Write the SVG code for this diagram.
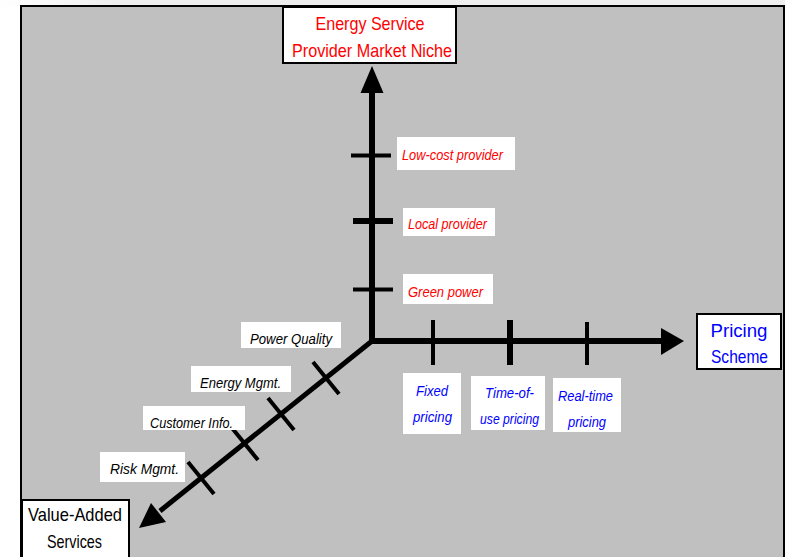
<svg xmlns="http://www.w3.org/2000/svg" width="785" height="557" viewBox="0 0 785 557">
<defs>
<linearGradient id="topband" x1="0" y1="0" x2="1" y2="0">
<stop offset="0" stop-color="#ffffff"/>
<stop offset="0.15" stop-color="#eeeeee"/>
<stop offset="1" stop-color="#eeeeee"/>
</linearGradient>
<style>
.axis{stroke:#000;stroke-width:6;fill:none}
.diag{stroke:#000;stroke-width:5;fill:none}
.tick{stroke:#000;stroke-width:4;fill:none}
.tickb{stroke:#000;stroke-width:6;fill:none}
.head{fill:#000;stroke:none}
.node{fill:#fff;stroke:#000;stroke-width:2}
.lbl{fill:#fff;stroke:none}
text{font-family:"Liberation Sans",Arial,sans-serif}
.ntitle{font-size:18.5px}
.red{fill:#ff0000}
.blue{fill:#0000ff}
.blk{fill:#000}
.it{font-style:italic;font-size:15.5px}
</style>
</defs>
<rect x="0" y="0" width="785" height="557" fill="#fff"/>
<rect x="0" y="0" width="785" height="6" fill="url(#topband)"/>
<rect x="21" y="6" width="763" height="560" fill="#c0c0c0" stroke="#000" stroke-width="2"/>

<g id="connectors">
<line class="axis" x1="372" y1="92" x2="372" y2="343"/>
<polygon class="head" points="372,66 360.5,93 383.5,93"/>
<line class="axis" x1="369" y1="341" x2="662" y2="341"/>
<polygon class="head" points="684,341 661,328 661,355"/>
<line class="diag" x1="372" y1="341" x2="160" y2="511"/>
<polygon class="head" points="139,528 151,503 166,522"/>
<line class="tick" x1="351" y1="155.5" x2="391" y2="155.5"/>
<line class="tickb" x1="353" y1="221" x2="393" y2="221"/>
<line class="tick" x1="353" y1="289.5" x2="393" y2="289.5"/>
<line class="tick" x1="433" y1="320" x2="433" y2="365"/>
<line class="tickb" x1="510" y1="320" x2="510" y2="365"/>
<line class="tick" x1="587" y1="322" x2="587" y2="365"/>
<line class="tick" x1="313" y1="362" x2="339" y2="394"/>
<line class="tick" x1="268" y1="398" x2="294" y2="430"/>
<line class="tick" x1="232" y1="428" x2="258" y2="460"/>
<line class="tick" x1="188" y1="462" x2="214" y2="494"/>
</g>

<g id="node-market-niche">
<rect class="node" x="283" y="7" width="173" height="56"/>
<text class="ntitle red" x="370" y="30" text-anchor="middle" textLength="109" lengthAdjust="spacingAndGlyphs">Energy Service</text>
<text class="ntitle red" x="372" y="57" text-anchor="middle" textLength="160" lengthAdjust="spacingAndGlyphs">Provider Market Niche</text>
</g>

<g id="node-pricing-scheme">
<rect class="node" x="697" y="314" width="84" height="55"/>
<text class="ntitle blue" x="739" y="337" text-anchor="middle" textLength="57" lengthAdjust="spacingAndGlyphs">Pricing</text>
<text class="ntitle blue" x="739.5" y="363" text-anchor="middle" textLength="57" lengthAdjust="spacingAndGlyphs">Scheme</text>
</g>

<g id="node-value-added">
<rect class="node" x="22" y="500" width="107" height="62"/>
<text class="ntitle blk" x="75" y="521" text-anchor="middle" textLength="94" lengthAdjust="spacingAndGlyphs">Value-Added</text>
<text class="ntitle blk" x="74.5" y="548" text-anchor="middle" textLength="55" lengthAdjust="spacingAndGlyphs">Services</text>
</g>

<g id="label-low-cost">
<rect class="lbl" x="397" y="137" width="118" height="33"/>
<text class="it red" x="402" y="159.5" textLength="101" lengthAdjust="spacingAndGlyphs">Low-cost provider</text>
</g>
<g id="label-local">
<rect class="lbl" x="403" y="208" width="92" height="28"/>
<text class="it red" x="408" y="228.5" textLength="79" lengthAdjust="spacingAndGlyphs">Local provider</text>
</g>
<g id="label-green">
<rect class="lbl" x="403" y="274" width="90" height="30"/>
<text class="it red" x="408" y="296.5" textLength="75" lengthAdjust="spacingAndGlyphs">Green power</text>
</g>

<g id="label-fixed">
<rect class="lbl" x="403" y="373" width="58" height="61"/>
<text class="it blue" x="432" y="395.5" text-anchor="middle" textLength="32" lengthAdjust="spacingAndGlyphs">Fixed</text>
<text class="it blue" x="432.5" y="421.5" text-anchor="middle" textLength="39" lengthAdjust="spacingAndGlyphs">pricing</text>
</g>
<g id="label-tou">
<rect class="lbl" x="471" y="376" width="74" height="54"/>
<text class="it blue" x="509.5" y="397.5" text-anchor="middle" textLength="49" lengthAdjust="spacingAndGlyphs">Time-of-</text>
<text class="it blue" x="509.5" y="423.5" text-anchor="middle" textLength="59" lengthAdjust="spacingAndGlyphs">use pricing</text>
</g>
<g id="label-realtime">
<rect class="lbl" x="553" y="378" width="68" height="54"/>
<text class="it blue" x="585.5" y="400.5" text-anchor="middle" textLength="55" lengthAdjust="spacingAndGlyphs">Real-time</text>
<text class="it blue" x="587" y="426.5" text-anchor="middle" textLength="38" lengthAdjust="spacingAndGlyphs">pricing</text>
</g>

<g id="label-power-quality">
<rect class="lbl" x="241" y="322" width="100" height="26"/>
<text class="it blk" x="250" y="343.5" textLength="82" lengthAdjust="spacingAndGlyphs">Power  Quality</text>
</g>
<g id="label-energy-mgmt">
<rect class="lbl" x="191" y="366" width="100" height="26"/>
<text class="it blk" x="200" y="387.5" textLength="81" lengthAdjust="spacingAndGlyphs">Energy Mgmt.</text>
</g>
<g id="label-customer-info">
<rect class="lbl" x="143" y="406" width="102" height="24"/>
<text class="it blk" x="150" y="427.5" textLength="83" lengthAdjust="spacingAndGlyphs">Customer Info.</text>
</g>
<g id="label-risk-mgmt">
<rect class="lbl" x="100" y="452" width="85" height="30"/>
<text class="it blk" x="110" y="473.5" textLength="69" lengthAdjust="spacingAndGlyphs">Risk Mgmt.</text>
</g>
</svg>
